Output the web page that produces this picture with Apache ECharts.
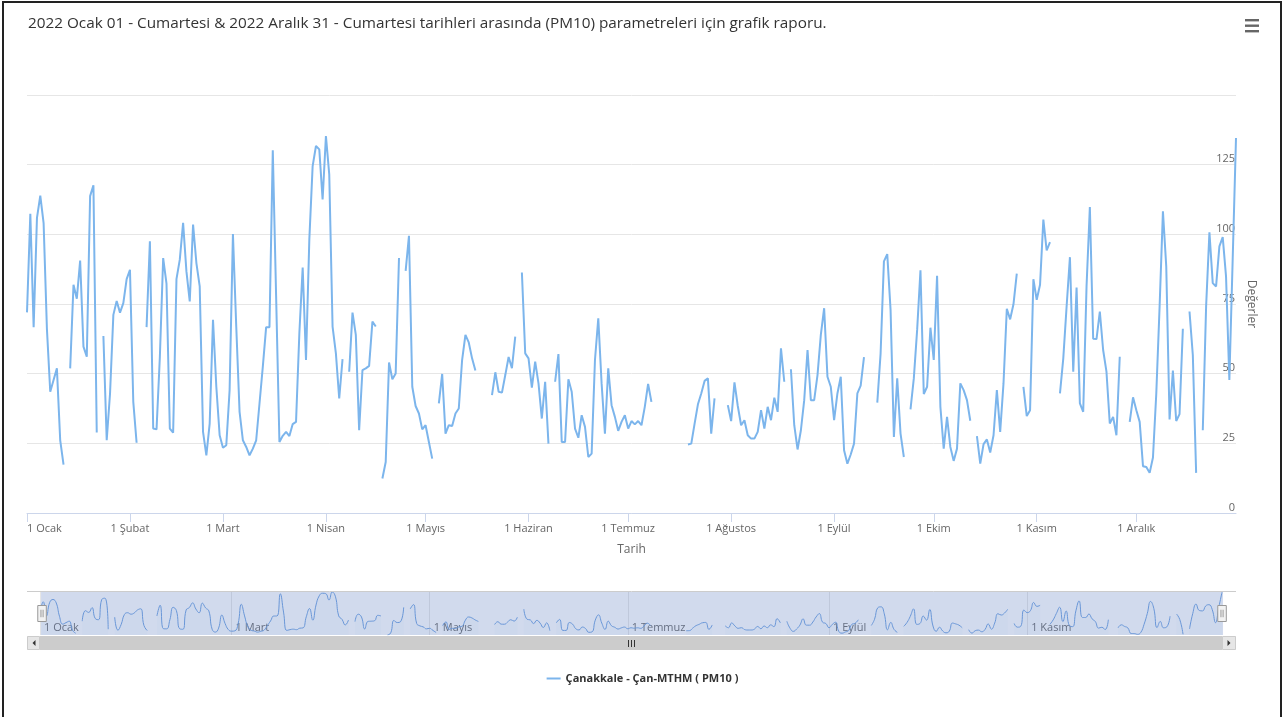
<!DOCTYPE html>
<html lang="tr">
<head>
<meta charset="utf-8">
<title>PM10 grafik raporu</title>
<script src="https://cdn.jsdelivr.net/npm/echarts@6/dist/echarts.min.js"></script>
<style>
  html, body { margin: 0; padding: 0; background: #ffffff; }
  #chart { position: absolute; left: 0; top: 0; width: 1285px; height: 717px; }
  #frame { position: absolute; left: 2px; top: 1px; width: 1276px; height: 730px;
           border: 2px solid #222; pointer-events: none; }
</style>
</head>
<body>
<div id="chart"></div>
<div id="frame"></div>
<script>
// Daily PM10 values for 2022, one array per month (null = no measurement)
const jan = [72, 107.4, 66.7, 105.9, 113.9, 104, 66, 43.5, 47.7, 51.9, 26.1, 17.4, null, 51.9, 81.9, 76.9,
  90.6, 59.7, 56.1, 113.7, 117.6, 28.9, null, 63.5, 26.1, 42.9, 71.1, 76.1, 71.9, 75.3, 83.9];
const feb = [87.3, 39.9, 25.2, null, null, 66.7, 97.5, 30.3, 30, 56, 91.5, 82.3, 30.3, 28.8, 83.9, 90.9,
  104.1, 86.7, 75.9, 103.5, 89.7, 81.3, 29.1, 20.7, 32.1, 69.3, 45.3, 27.9];
const mar = [23.4, 24.3, 44.1, 100.1, 66.9, 36.3, 26.1, 23.7, 20.7, 23.1, 26.1, 39.3, 52.5, 66.7, 66.7, 130.2,
  78, 25.5, 27.7, 29.1, 27.6, 31.9, 32.7, 64.5, 88.1, 54.9, 98.1, 124.5, 131.7, 130.5, 112.5];
const apr = [135.3, 121.5, 66.9, 57.3, 41.1, 55.2, null, 50.7, 71.9, 63.9, 29.7, 51.3, 51.9, 52.8, 68.7, 66.9,
  null, 12.4, 18.3, 54, 48, 50.1, 91.5, null, 86.9, 99.5, 45.3, 38.4, 35.7, 30];
const may = [31.5, 25.5, 19.5, null, 39.3, 49.9, 28.5, 31.5, 31.2, 35.7, 37.5, 54.9, 63.9, 61.2, 55.5, 51.1,
  null, null, null, null, 42.3, 50.5, 43.5, 43.2, 49.5, 56, 52, 63.3, null, 86.3, 57.3];
const jun = [55.5, 45, 54.3, 46.5, 33.9, 47.1, 24.9, null, 47.1, 57, 25.5, 25.5, 48, 43.5, 30.3, 27,
  35.1, 30.9, 20.1, 21.3, 54.9, 69.9, 46.5, 28.5, 51.9, 38.7, 34.5, 29.5, 32.7, 35.1];
const jul = [30.3, 33, 31.8, 33, 31.5, 38.1, 46.3, 39.9, null, null, null, null, null, null, null, null,
  null, null, 24.6, 24.9, 32.1, 39, 42.9, 47.4, 48.3, 28.5, 41.1, null, null, null, 38.7];
const aug = [33, 46.9, 38.4, 31.5, 33.3, 27.9, 26.7, 26.7, 29.1, 36.9, 30.3, 38.1, 33.3, 41.4, 36.3, 59.1,
  47.1, null, 51.6, 31.5, 22.8, 29.7, 40.5, 58.5, 40.5, 40.5, 49.5, 63.9, 73.5, 48.9, 45.3];
const sep = [33.3, 42.9, 48.9, 22.5, 17.7, 21, 24.9, 42.9, 45.7, 55.9, null, null, null, 39.6, 57.3, 90.3,
  92.9, 72.9, 27.3, 48.3, 28.5, 20.1, null, 37.2, 48.3, 65.7, 87.1, 42.7, 45.3, 66.5];
const oct = [54.9, 85.1, 38.1, 23.1, 34.5, 23.7, 18.7, 23.1, 46.5, 44.1, 40.5, 33.1, null, 27.6, 17.7, 24.7,
  26.4, 21.7, 27.9, 44.1, 29.1, 46.5, 73.3, 69.5, 74.9, 85.9, null, 45.3, 34.8, 36.9, 83.9];
const nov = [76.5, 81.9, 105.3, 94.2, 97.2, null, null, 42.9, 55.5, 74.1, 91.8, 50.7, 80.9, 39.3, 36.3, 81.3,
  109.8, 62.5, 62.4, 72.3, 58.5, 50.7, 32.1, 34.5, 27.9, 56.1, null, null, 32.7, 41.5];
const dec = [36.9, 32.7, 16.8, 16.5, 14.4, 19.9, 42.9, 74.1, 108.3, 88.5, 33.6, 51.1, 33, 35.5, 66.1, null,
  72.3, 56.7, 14.4, null, 29.7, 74.1, 100.7, 82.5, 81.3, 95.7, 99, 84.9, 47.7, 91, 134.6];

const monthNames = ['Ocak', 'Şubat', 'Mart', 'Nisan', 'Mayıs', 'Haziran', 'Temmuz',
  'Ağustos', 'Eylül', 'Ekim', 'Kasım', 'Aralık'];
const yTicks = [0, 25, 50, 75, 100, 125, 150];

const seriesName = 'Çanakkale - Çan-MTHM ( PM10 )';
const titleText = '2022 Ocak 01 - Cumartesi & 2022 Aralık 31 - Cumartesi tarihleri arasında (PM10) parametreleri için grafik raporu.';

// Build the daily category axis and the month-start lookup
const months = [jan, feb, mar, apr, may, jun, jul, aug, sep, oct, nov, dec];
const values = [].concat(...months);
const monthStart = {};
let pos = 0;
months.forEach((m, i) => { monthStart[pos] = i; pos += m.length; });
const dates = values.map((_, i) => new Date(Date.UTC(2022, 0, 1 + i)).toISOString().slice(0, 10));

const isMonthStart = (i) => Object.prototype.hasOwnProperty.call(monthStart, i);
const isNavMonth = (i) => isMonthStart(i) && monthStart[i] % 2 === 0;
const monthLabel = (v, i) => '1 ' + monthNames[monthStart[i]];

const FONT = '"Open Sans", "Noto Sans", sans-serif';
const chart = echarts.init(document.getElementById('chart'), null, { renderer: 'canvas' });

// Plot area bounds
const PL = 27, PR = 1236, PT = 95, PB = 513;
// Navigator bounds
const NL = 40, NR = 1222, NT = 592, NB = 635;

chart.setOption({
  animation: false,
  backgroundColor: '#ffffff',
  textStyle: { fontFamily: FONT },
  title: {
    text: titleText,
    left: 23, top: 11,
    textStyle: { fontFamily: FONT, fontSize: 15.3, fontWeight: 'normal', color: '#333333' }
  },
  legend: {
    data: [seriesName],
    left: 'center', top: 668,
    icon: 'rect', itemWidth: 14, itemHeight: 2, itemGap: 10,
    textStyle: { fontFamily: FONT, fontSize: 11, fontWeight: 'bold', color: '#333333' }
  },
  grid: [
    { left: PL, right: 1285 - PR, top: PT, bottom: 717 - PB, containLabel: false, outerBoundsMode: 'none' },
    { left: NL, right: 1285 - NR, top: NT, bottom: 717 - NB, containLabel: false, outerBoundsMode: 'none' }
  ],
  xAxis: [
    {
      type: 'category', gridIndex: 0, data: dates, boundaryGap: false,
      name: 'Tarih', nameLocation: 'middle', nameGap: 31,
      nameTextStyle: { fontFamily: FONT, fontSize: 12, color: '#666666' },
      axisLine: { show: true, lineStyle: { color: '#ccd6eb', width: 1 } },
      axisTick: { show: true, interval: isMonthStart, length: 9, lineStyle: { color: '#ccd6eb' } },
      axisLabel: {
        interval: isMonthStart, formatter: monthLabel, margin: 10,
        fontFamily: FONT, fontSize: 11, color: '#666666', alignMinLabel: 'left'
      },
      splitLine: { show: false }
    },
    {
      type: 'category', gridIndex: 1, data: dates, boundaryGap: false,
      axisLine: { show: false }, axisTick: { show: false },
      axisLabel: {
        interval: isNavMonth, formatter: monthLabel, inside: true, margin: 2,
        align: 'left', padding: [0, 0, 0, 4],
        fontFamily: FONT, fontSize: 11, color: '#666666'
      },
      splitLine: { show: true, interval: isNavMonth, lineStyle: { color: '#e6e6e6', width: 1 } }
    }
  ],
  yAxis: [
    {
      type: 'value', gridIndex: 0, position: 'right',
      min: yTicks[0], max: yTicks[yTicks.length - 1], interval: yTicks[1] - yTicks[0],
      name: 'Değerler', nameLocation: 'middle', nameRotate: -90, nameGap: 8,
      nameTextStyle: { fontFamily: FONT, fontSize: 12, color: '#666666' },
      axisLine: { show: false }, axisTick: { show: false },
      axisLabel: {
        inside: true, margin: 1, verticalAlign: 'bottom', showMaxLabel: false,
        fontFamily: FONT, fontSize: 11, color: '#666666'
      },
      splitLine: { show: true, lineStyle: { color: '#e6e6e6', width: 1 } }
    },
    {
      type: 'value', gridIndex: 1, show: false, min: 'dataMin', max: 'dataMax',
      splitLine: { show: false }
    }
  ],
  dataZoom: [
    {
      type: 'slider', xAxisIndex: 0, start: 0, end: 100,
      left: NL, right: 1285 - NR, top: NT, height: NB - NT,
      showDataShadow: false, showDetail: false, brushSelect: false, realtime: true,
      backgroundColor: 'rgba(0,0,0,0)', borderColor: 'rgba(0,0,0,0)',
      fillerColor: 'rgba(102,133,194,0.3)',
      handleIcon: 'path://M0,0H8V15H0Z M3,4V11 M5,4V11',
      handleSize: 16,
      handleStyle: { color: '#f2f2f2', borderColor: '#999999', borderWidth: 1 },
      moveHandleSize: 0,
      emphasis: { handleStyle: { color: '#f2f2f2', borderColor: '#999999' } }
    }
  ],
  series: [
    {
      name: seriesName, type: 'line', xAxisIndex: 0, yAxisIndex: 0,
      data: values, connectNulls: false,
      symbol: 'none', showSymbol: false,
      lineStyle: { color: '#7cb5ec', width: 2 },
      itemStyle: { color: '#7cb5ec' },
      z: 3
    },
    {
      name: 'navigator', type: 'line', xAxisIndex: 1, yAxisIndex: 1,
      data: values, connectNulls: false, smooth: 0.5,
      symbol: 'none', showSymbol: false,
      lineStyle: { color: '#6b9fe0', width: 1 },
      areaStyle: { color: 'rgba(124,181,236,0.05)' },
      itemStyle: { color: '#6b9fe0' },
      silent: true
    }
  ],
  graphic: [
    // context menu button
    { type: 'rect', shape: { x: 1245, y: 19, width: 14, height: 2.4 }, style: { fill: '#666666' } },
    { type: 'rect', shape: { x: 1245, y: 24.5, width: 14, height: 2.4 }, style: { fill: '#666666' } },
    { type: 'rect', shape: { x: 1245, y: 30, width: 14, height: 2.4 }, style: { fill: '#666666' } },
    // navigator outline
    { type: 'line', shape: { x1: PL, y1: NT - 0.5, x2: PR, y2: NT - 0.5 }, style: { stroke: '#cccccc', lineWidth: 1 }, z: 10 },
    // scrollbar track, bar and buttons
    { type: 'rect', shape: { x: PL, y: NB + 1, width: PR - PL, height: 14 }, style: { fill: '#f2f2f2' } },
    { type: 'rect', shape: { x: NL, y: NB + 1, width: NR - NL, height: 14 }, style: { fill: '#cccccc' } },
    { type: 'rect', shape: { x: PL + 0.5, y: NB + 1.5, width: NL - PL - 1, height: 13 }, style: { fill: '#e6e6e6', stroke: '#cccccc', lineWidth: 1 } },
    { type: 'rect', shape: { x: NR + 0.5, y: NB + 1.5, width: PR - NR - 1, height: 13 }, style: { fill: '#e6e6e6', stroke: '#cccccc', lineWidth: 1 } },
    { type: 'polygon', shape: { points: [[35.5, 640], [35.5, 646], [32.5, 643]] }, style: { fill: '#333333' } },
    { type: 'polygon', shape: { points: [[1227.5, 640], [1227.5, 646], [1230.5, 643]] }, style: { fill: '#333333' } },
    { type: 'line', shape: { x1: 628.5, y1: 640, x2: 628.5, y2: 647 }, style: { stroke: '#333333', lineWidth: 1 } },
    { type: 'line', shape: { x1: 631.5, y1: 640, x2: 631.5, y2: 647 }, style: { stroke: '#333333', lineWidth: 1 } },
    { type: 'line', shape: { x1: 634.5, y1: 640, x2: 634.5, y2: 647 }, style: { stroke: '#333333', lineWidth: 1 } }
  ]
});
</script>
</body>
</html>
